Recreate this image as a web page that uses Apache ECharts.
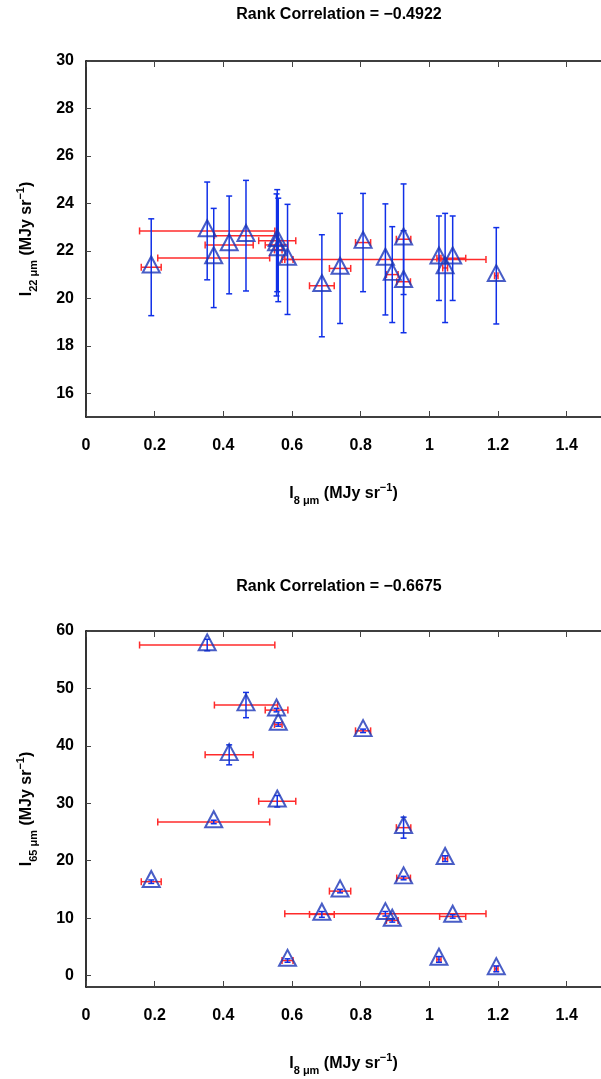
<!DOCTYPE html>
<html>
<head>
<meta charset="utf-8">
<script src="https://cdn.jsdelivr.net/npm/echarts@6/dist/echarts.min.js"></script>
<style>
html,body{margin:0;padding:0;background:#fff;}
#c{width:601px;height:1079px;}
</style>
</head>
<body>
<div id="c"></div>
<script>
// ---- data ----
const i8 = [0.190,0.353,0.372,0.417,0.466,0.555,0.560,0.557,0.587,0.687,0.740,0.807,0.872,0.892,0.925,0.925,1.028,1.046,1.068,1.195];
const i8Err = [0.029,0.197,0.163,0.070,0.092,0.033,0.011,0.054,0.016,0.036,0.031,0.022,0.293,0.017,0.021,0.020,0.006,0.007,0.038,0.005];
const i22 = [21.31,22.84,21.70,22.25,22.64,22.25,22.04,22.43,21.64,20.53,21.26,22.35,21.64,21.00,22.49,20.70,21.69,21.28,21.69,20.95];
const i22Err = [2.04,2.06,2.09,2.06,2.33,2.15,2.18,2.15,2.32,2.15,2.32,2.07,2.34,2.02,2.33,2.15,1.78,2.30,1.78,2.03];
const i65 = [16.34,57.56,26.74,38.43,47.10,46.22,43.72,30.35,2.61,10.64,14.70,42.61,10.75,9.60,25.75,16.97,2.80,20.35,10.29,1.16];
const i65Err = [0.3,1.0,0.3,1.74,2.2,0.3,0.3,1.0,0.3,0.5,0.3,0.3,0.4,0.3,1.83,0.3,0.5,0.5,0.3,0.5];
const titles = ['Rank Correlation = \u22120.4922', 'Rank Correlation = \u22120.6675'];
const xTicks = [0, 1.5, 0.2];   // min, max, step
const yTop = [15, 30];
const yBot = [-2, 60];

const FONT = "'Liberation Sans Narrow','Liberation Sans',Arial,sans-serif";
const RED = '#ff2b2b', BLUE = '#1030e8', TRI = '#1a34b8';

const rich = {
  n: {fontFamily: FONT, fontWeight: 'bold', fontSize: 16, color: '#000', lineHeight: 24, verticalAlign: 'middle'},
  sub: {fontFamily: FONT, fontWeight: 'bold', fontSize: 11, color: '#000', lineHeight: 24, verticalAlign: 'bottom'},
  sup: {fontFamily: FONT, fontWeight: 'bold', fontSize: 11, color: '#000', lineHeight: 24, verticalAlign: 'top'}
};
const xName = '{n|I}{sub|8 \u03bcm}{n| (MJy sr}{sup|\u22121}{n|)}';

function pts(ys, yerr){ return i8.map((x,k)=>[x, ys[k], i8Err[k], yerr[k]]); }

function xErr(params, api){
  const x=api.value(0), y=api.value(1), e=api.value(2);
  const a=api.coord([x-e,y]), b=api.coord([x+e,y]);
  const st={stroke:RED, lineWidth:1.5};
  return {type:'group', children:[
    {type:'line', shape:{x1:a[0],y1:a[1],x2:b[0],y2:b[1]}, style:st},
    {type:'line', shape:{x1:a[0],y1:a[1]-3.5,x2:a[0],y2:a[1]+3.5}, style:st},
    {type:'line', shape:{x1:b[0],y1:b[1]-3.5,x2:b[0],y2:b[1]+3.5}, style:st}
  ]};
}
function yErr(params, api){
  const x=api.value(0), y=api.value(1), e=api.value(3);
  const a=api.coord([x,y-e]), b=api.coord([x,y+e]);
  const st={stroke:BLUE, lineWidth:1.5};
  return {type:'group', children:[
    {type:'line', shape:{x1:a[0],y1:a[1],x2:b[0],y2:b[1]}, style:st},
    {type:'line', shape:{x1:a[0]-3,y1:a[1],x2:a[0]+3,y2:a[1]}, style:st},
    {type:'line', shape:{x1:b[0]-3,y1:b[1],x2:b[0]+3,y2:b[1]}, style:st}
  ]};
}

function xAxisDef(gi, pos){
  const bottom = pos === 'bottom';
  return {
    type:'value', gridIndex:gi, position:pos, min:xTicks[0], max:xTicks[1], interval:xTicks[2],
    axisLine:{show:true, onZero:false, lineStyle:{color:'#000', width:1.6}},
    axisTick:{show:true, inside:true, length:6, lineStyle:{color:'#444', width:1}},
    splitLine:{show:false},
    axisLabel:{show:bottom, showMaxLabel:false, margin:21, fontFamily:FONT, fontWeight:'bold', fontSize:16, color:'#000'},
    name: bottom ? xName : '', nameLocation:'middle', nameGap:65, nameTextStyle:{rich:rich}
  };
}
function yAxisDef(gi, ext, sub){
  return {
    type:'value', gridIndex:gi, min:ext[0], max:ext[1], splitNumber: gi===0?7:6,
    axisLine:{show:true, onZero:false, lineStyle:{color:'#000', width:1.6}},
    axisTick:{show:true, inside:true, length:5, lineStyle:{color:'#444', width:1}},
    splitLine:{show:false},
    axisLabel:{showMinLabel:false, margin:12, fontFamily:FONT, fontWeight:'bold', fontSize:16, color:'#000'},
    name:'{n|I}{sub|'+sub+' \u03bcm}{n| (MJy sr}{sup|\u22121}{n|)}', nameLocation:'middle', nameRotate:90, nameGap:47,
    nameTextStyle:{rich:rich}
  };
}

const chart = echarts.init(document.getElementById('c'), null, {renderer:'canvas'});
const gridTops = [61, 631];
const option = {
  animation:false,
  backgroundColor:'#fff',
  grid: gridTops.map(t=>({left:86, top:t, width:520, height:356, show:false})),
  xAxis:[xAxisDef(0,'bottom'), xAxisDef(1,'bottom'), xAxisDef(0,'top'), xAxisDef(1,'top')],
  yAxis:[yAxisDef(0, yTop, '22'), yAxisDef(1, yBot, '65')],
  graphic: titles.map((t,k)=>({type:'text', x:339, y:k===0?15:587, style:{text:t, textAlign:'center', textVerticalAlign:'middle', font:'bold 16px '+FONT, fill:'#000'}})),
  series:[]
};
const sets = [[i22,i22Err],[i65,i65Err]];
sets.forEach((s,gi)=>{
  const d = pts(s[0], s[1]);
  option.series.push({type:'custom', xAxisIndex:gi, yAxisIndex:gi, renderItem:xErr, data:d, encode:{x:0,y:1}, z:2});
  option.series.push({type:'custom', xAxisIndex:gi, yAxisIndex:gi, renderItem:yErr, data:d, encode:{x:0,y:1}, z:3});
  option.series.push({type:'scatter', xAxisIndex:gi, yAxisIndex:gi, data:d.map(p=>[p[0],p[1]]), symbol:'triangle', symbolSize:[17,16], symbolOffset:[0,-2.7],
    itemStyle:{color:'transparent', borderColor:TRI, borderWidth:2}, z:4});
});
chart.setOption(option);
</script>
</body>
</html>
